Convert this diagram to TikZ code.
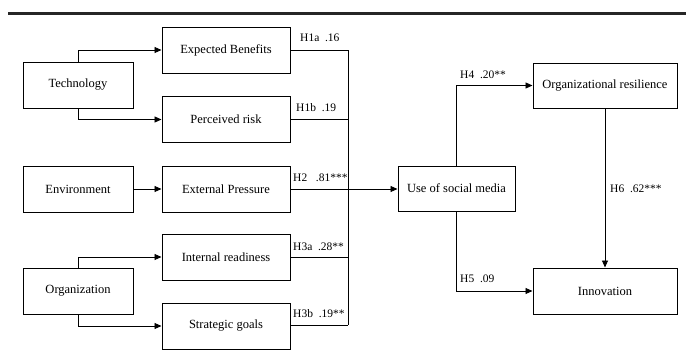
\documentclass[tikz,border=0pt]{standalone}
\usepackage{fontspec}
\setmainfont{Liberation Serif}
\usetikzlibrary{arrows.meta}
\begin{document}
\begin{tikzpicture}[x=1pt,y=-1pt,
  box/.style={draw,line width=1pt,minimum width=#1,minimum height=46pt,inner sep=0pt,font=\fontsize{12.5}{14}\selectfont},
  box/.default=128pt,
  conn/.style={line width=0.9pt},
  arr/.style={conn,-{Triangle[length=7pt,width=6pt]}},
  lab/.style={font=\fontsize{11.5}{13}\selectfont,inner sep=0pt,anchor=base west}]
\useasboundingbox (0,0) rectangle (686,351);
\draw[line width=3pt,black!85] (8,13) -- (686,13);
% left column
\node[box=110pt] (tech) at (78,85) {Technology};
\node[box=110pt] (env) at (78,189) {Environment};
\node[box=110pt] (org) at (78,291) {Organization};
% middle column
\node[box] (eb) at (226,50) {Expected Benefits};
\node[box] (pr) at (226,119.5) {Perceived risk};
\node[box] (ep) at (226,189) {External Pressure};
\node[box] (ir) at (226,257) {Internal readiness};
\node[box] (sg) at (226,326) {Strategic goals};
% right
\node[box=117pt,minimum height=45pt] (use) at (456.5,188.5) {Use of social media};
\node[box=144pt,minimum height=45pt] (res) at (605,85.5) {Organizational resilience};
\node[box=144pt] (inn) at (605,291) {Innovation};
% bus
\coordinate (bt) at (348,50);
\coordinate (bb) at (348,325);
\coordinate (bm) at (348,189);
\draw[conn] (bt) -- (bb);
% input arrows
\draw[arr] (tech.north) |- (eb.west);
\draw[arr] (tech.south) |- (pr.west);
\draw[arr] (env.east) -- (ep.west);
\draw[arr] (org.north) |- (ir.west);
\draw[arr] (org.south) |- (sg.west);
% to bus
\draw[conn] (eb.east) -- (bt);
\draw[conn] (pr.east) -- (pr.east -| bt);
\draw[conn] (ep.east) -- (bm);
\draw[conn] (ir.east) -- (ir.east -| bt);
\draw[conn] (sg.east |- bb) -- (bb);
\draw[arr] (bm) -- (use.west |- bm);
% outcomes
\draw[arr] (use.north) |- (res.west);
\draw[arr] (use.south) |- (inn.west);
\draw[arr] (res.south) -- (inn.north);
% labels
\node[lab] (l1) at (300,41) {H1a~ .16};
\node[lab] (l2) at (296,111) {H1b~ .19};
\node[lab] (l3) at (293,181) {H2~~ .81***};
\node[lab] (l4) at (293,250) {H3a~ .28**};
\node[lab] (l5) at (293,317) {H3b~ .19**};
\node[lab] (l6) at (460,78) {H4~ .20**};
\node[lab] (l7) at (460,282) {H5~ .09};
\node[lab] (l8) at (610,192) {H6~ .62***};
\end{tikzpicture}
\end{document}
